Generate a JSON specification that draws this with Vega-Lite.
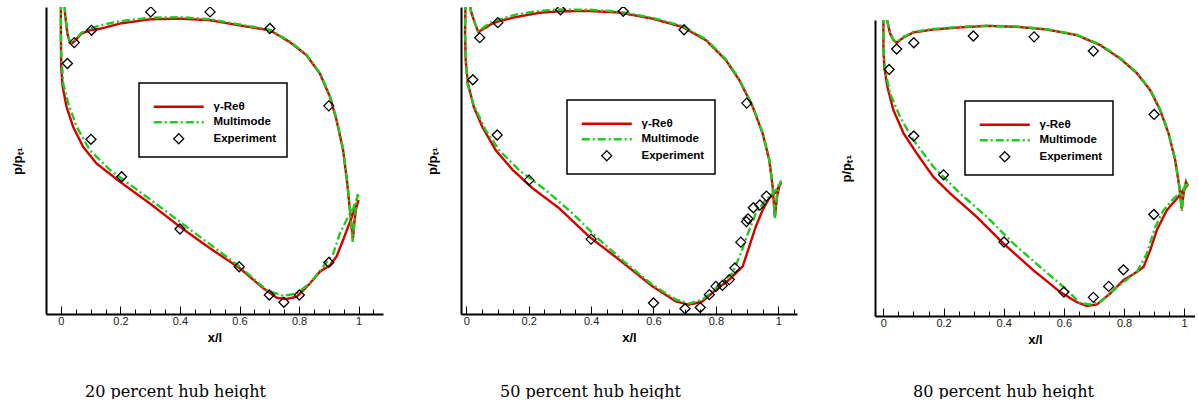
{
"$schema": "https://vega.github.io/schema/vega-lite/v6.json",
"padding": {"left": 11, "top": 7, "right": 0, "bottom": 0},
"background": "white",
"spacing": 43,
"config": {
  "view": {"stroke": null},
  "font": "Liberation Sans",
  "axis": {"labelFont": "Liberation Sans", "titleFont": "Liberation Sans", "domainColor": "black", "domainWidth": 2, "tickColor": "black", "grid": false},
  "legend": {"strokeColor": "black", "strokeWidth": 1.5, "padding": 10, "symbolOffset": 24, "labelOffset": 29, "symbolStrokeWidth": 2, "symbolSize": 100, "labelFont": "Liberation Sans", "labelFontWeight": "bold", "labelFontSize": 11.5, "labelColor": "black", "rowPadding": 2.5, "titleFontSize": 6, "titlePadding": 2, "symbolFillColor": "transparent", "labelLimit": 300}
},
"resolve": {"scale": {"x": "independent", "y": "independent", "color": "independent", "strokeDash": "independent", "shape": "independent"}, "legend": {"color": "independent", "strokeDash": "independent", "shape": "independent"}},
"data": {"values": [
{"p":1,"s":"γ-Reθ","i":1,"x":0.010,"y":1.06},{"p":1,"s":"γ-Reθ","i":2,"x":0.014,"y":0.978},{"p":1,"s":"γ-Reθ","i":3,"x":0.022,"y":0.913},{"p":1,"s":"γ-Reθ","i":4,"x":0.030,"y":0.885},{"p":1,"s":"γ-Reθ","i":5,"x":0.038,"y":0.882},{"p":1,"s":"γ-Reθ","i":6,"x":0.050,"y":0.893},{"p":1,"s":"γ-Reθ","i":7,"x":0.069,"y":0.913},{"p":1,"s":"γ-Reθ","i":8,"x":0.097,"y":0.924},{"p":1,"s":"γ-Reθ","i":9,"x":0.131,"y":0.929},{"p":1,"s":"γ-Reθ","i":10,"x":0.198,"y":0.946},{"p":1,"s":"γ-Reθ","i":11,"x":0.299,"y":0.960},{"p":1,"s":"γ-Reθ","i":12,"x":0.400,"y":0.962},{"p":1,"s":"γ-Reθ","i":13,"x":0.501,"y":0.957},{"p":1,"s":"γ-Reθ","i":14,"x":0.601,"y":0.940},{"p":1,"s":"γ-Reθ","i":15,"x":0.702,"y":0.924},{"p":1,"s":"γ-Reθ","i":16,"x":0.769,"y":0.886},{"p":1,"s":"γ-Reθ","i":17,"x":0.825,"y":0.843},{"p":1,"s":"γ-Reθ","i":18,"x":0.870,"y":0.783},{"p":1,"s":"γ-Reθ","i":19,"x":0.904,"y":0.707},{"p":1,"s":"γ-Reθ","i":20,"x":0.926,"y":0.631},{"p":1,"s":"γ-Reθ","i":21,"x":0.948,"y":0.534},{"p":1,"s":"γ-Reθ","i":22,"x":0.962,"y":0.425},{"p":1,"s":"γ-Reθ","i":23,"x":0.972,"y":0.328},{"p":1,"s":"γ-Reθ","i":24,"x":0.981,"y":0.245},{"p":1,"s":"γ-Reθ","i":25,"x":0.986,"y":0.300},{"p":1,"s":"γ-Reθ","i":26,"x":0.992,"y":0.345},{"p":1,"s":"γ-Reθ","i":27,"x":1.000,"y":0.371},{"p":1,"s":"γ-Reθ","i":28,"x":0.988,"y":0.344},{"p":1,"s":"γ-Reθ","i":29,"x":0.971,"y":0.300},{"p":1,"s":"γ-Reθ","i":30,"x":0.948,"y":0.241},{"p":1,"s":"γ-Reθ","i":31,"x":0.926,"y":0.187},{"p":1,"s":"γ-Reθ","i":32,"x":0.904,"y":0.159},{"p":1,"s":"γ-Reθ","i":33,"x":0.870,"y":0.138},{"p":1,"s":"γ-Reθ","i":34,"x":0.837,"y":0.100},{"p":1,"s":"γ-Reθ","i":35,"x":0.792,"y":0.056},{"p":1,"s":"γ-Reθ","i":36,"x":0.758,"y":0.049},{"p":1,"s":"γ-Reθ","i":37,"x":0.725,"y":0.053},{"p":1,"s":"γ-Reθ","i":38,"x":0.680,"y":0.084},{"p":1,"s":"γ-Reθ","i":39,"x":0.601,"y":0.149},{"p":1,"s":"γ-Reθ","i":40,"x":0.501,"y":0.214},{"p":1,"s":"γ-Reθ","i":41,"x":0.400,"y":0.284},{"p":1,"s":"γ-Reθ","i":42,"x":0.299,"y":0.360},{"p":1,"s":"γ-Reθ","i":43,"x":0.198,"y":0.431},{"p":1,"s":"γ-Reθ","i":44,"x":0.120,"y":0.490},{"p":1,"s":"γ-Reθ","i":45,"x":0.075,"y":0.544},{"p":1,"s":"γ-Reθ","i":46,"x":0.041,"y":0.610},{"p":1,"s":"γ-Reθ","i":47,"x":0.019,"y":0.675},{"p":1,"s":"γ-Reθ","i":48,"x":0.006,"y":0.740},{"p":1,"s":"γ-Reθ","i":49,"x":0.001,"y":0.805},{"p":1,"s":"γ-Reθ","i":50,"x":0.000,"y":0.913},{"p":1,"s":"γ-Reθ","i":51,"x":0.000,"y":1.06},
{"p":1,"s":"Multimode","i":1,"x":0.010,"y":1.06},{"p":1,"s":"Multimode","i":2,"x":0.014,"y":0.978},{"p":1,"s":"Multimode","i":3,"x":0.022,"y":0.913},{"p":1,"s":"Multimode","i":4,"x":0.031,"y":0.886},{"p":1,"s":"Multimode","i":5,"x":0.040,"y":0.885},{"p":1,"s":"Multimode","i":6,"x":0.052,"y":0.897},{"p":1,"s":"Multimode","i":7,"x":0.069,"y":0.916},{"p":1,"s":"Multimode","i":8,"x":0.097,"y":0.929},{"p":1,"s":"Multimode","i":9,"x":0.131,"y":0.940},{"p":1,"s":"Multimode","i":10,"x":0.198,"y":0.954},{"p":1,"s":"Multimode","i":11,"x":0.299,"y":0.965},{"p":1,"s":"Multimode","i":12,"x":0.400,"y":0.967},{"p":1,"s":"Multimode","i":13,"x":0.501,"y":0.960},{"p":1,"s":"Multimode","i":14,"x":0.601,"y":0.943},{"p":1,"s":"Multimode","i":15,"x":0.702,"y":0.926},{"p":1,"s":"Multimode","i":16,"x":0.769,"y":0.888},{"p":1,"s":"Multimode","i":17,"x":0.825,"y":0.845},{"p":1,"s":"Multimode","i":18,"x":0.870,"y":0.785},{"p":1,"s":"Multimode","i":19,"x":0.904,"y":0.710},{"p":1,"s":"Multimode","i":20,"x":0.926,"y":0.635},{"p":1,"s":"Multimode","i":21,"x":0.948,"y":0.538},{"p":1,"s":"Multimode","i":22,"x":0.962,"y":0.428},{"p":1,"s":"Multimode","i":23,"x":0.972,"y":0.330},{"p":1,"s":"Multimode","i":24,"x":0.980,"y":0.235},{"p":1,"s":"Multimode","i":25,"x":0.986,"y":0.300},{"p":1,"s":"Multimode","i":26,"x":0.992,"y":0.360},{"p":1,"s":"Multimode","i":27,"x":0.997,"y":0.390},{"p":1,"s":"Multimode","i":28,"x":1.000,"y":0.380},{"p":1,"s":"Multimode","i":29,"x":0.994,"y":0.376},{"p":1,"s":"Multimode","i":30,"x":0.982,"y":0.344},{"p":1,"s":"Multimode","i":31,"x":0.965,"y":0.317},{"p":1,"s":"Multimode","i":32,"x":0.937,"y":0.262},{"p":1,"s":"Multimode","i":33,"x":0.915,"y":0.197},{"p":1,"s":"Multimode","i":34,"x":0.881,"y":0.154},{"p":1,"s":"Multimode","i":35,"x":0.837,"y":0.100},{"p":1,"s":"Multimode","i":36,"x":0.792,"y":0.067},{"p":1,"s":"Multimode","i":37,"x":0.747,"y":0.059},{"p":1,"s":"Multimode","i":38,"x":0.691,"y":0.078},{"p":1,"s":"Multimode","i":39,"x":0.601,"y":0.154},{"p":1,"s":"Multimode","i":40,"x":0.512,"y":0.219},{"p":1,"s":"Multimode","i":41,"x":0.422,"y":0.284},{"p":1,"s":"Multimode","i":42,"x":0.333,"y":0.349},{"p":1,"s":"Multimode","i":43,"x":0.243,"y":0.414},{"p":1,"s":"Multimode","i":44,"x":0.165,"y":0.469},{"p":1,"s":"Multimode","i":45,"x":0.097,"y":0.534},{"p":1,"s":"Multimode","i":46,"x":0.053,"y":0.610},{"p":1,"s":"Multimode","i":47,"x":0.025,"y":0.686},{"p":1,"s":"Multimode","i":48,"x":0.008,"y":0.750},{"p":1,"s":"Multimode","i":49,"x":0.001,"y":0.850},{"p":1,"s":"Multimode","i":50,"x":0.000,"y":0.913},{"p":1,"s":"Multimode","i":51,"x":0.000,"y":1.06},
{"p":1,"s":"Experiment","i":1,"x":0.302,"y":0.984},{"p":1,"s":"Experiment","i":2,"x":0.501,"y":0.984},{"p":1,"s":"Experiment","i":3,"x":0.702,"y":0.930},{"p":1,"s":"Experiment","i":4,"x":0.103,"y":0.924},{"p":1,"s":"Experiment","i":5,"x":0.045,"y":0.884},{"p":1,"s":"Experiment","i":6,"x":0.022,"y":0.816},{"p":1,"s":"Experiment","i":7,"x":0.900,"y":0.678},{"p":1,"s":"Experiment","i":8,"x":0.101,"y":0.569},{"p":1,"s":"Experiment","i":9,"x":0.204,"y":0.447},{"p":1,"s":"Experiment","i":10,"x":0.400,"y":0.277},{"p":1,"s":"Experiment","i":11,"x":0.599,"y":0.154},{"p":1,"s":"Experiment","i":12,"x":0.700,"y":0.062},{"p":1,"s":"Experiment","i":13,"x":0.749,"y":0.038},{"p":1,"s":"Experiment","i":14,"x":0.801,"y":0.062},{"p":1,"s":"Experiment","i":15,"x":0.900,"y":0.168},
{"p":2,"s":"γ-Reθ","i":1,"x":0.009,"y":1.06},{"p":2,"s":"γ-Reθ","i":2,"x":0.014,"y":0.989},{"p":2,"s":"γ-Reθ","i":3,"x":0.028,"y":0.946},{"p":2,"s":"γ-Reθ","i":4,"x":0.038,"y":0.919},{"p":2,"s":"γ-Reθ","i":5,"x":0.057,"y":0.930},{"p":2,"s":"γ-Reθ","i":6,"x":0.083,"y":0.946},{"p":2,"s":"γ-Reθ","i":7,"x":0.105,"y":0.954},{"p":2,"s":"γ-Reθ","i":8,"x":0.158,"y":0.967},{"p":2,"s":"γ-Reθ","i":9,"x":0.233,"y":0.981},{"p":2,"s":"γ-Reθ","i":10,"x":0.297,"y":0.986},{"p":2,"s":"γ-Reθ","i":11,"x":0.394,"y":0.987},{"p":2,"s":"γ-Reθ","i":12,"x":0.490,"y":0.982},{"p":2,"s":"γ-Reθ","i":13,"x":0.597,"y":0.962},{"p":2,"s":"γ-Reθ","i":14,"x":0.693,"y":0.935},{"p":2,"s":"γ-Reθ","i":15,"x":0.768,"y":0.892},{"p":2,"s":"γ-Reθ","i":16,"x":0.832,"y":0.827},{"p":2,"s":"γ-Reθ","i":17,"x":0.875,"y":0.762},{"p":2,"s":"γ-Reθ","i":18,"x":0.918,"y":0.675},{"p":2,"s":"γ-Reθ","i":19,"x":0.950,"y":0.588},{"p":2,"s":"γ-Reθ","i":20,"x":0.971,"y":0.502},{"p":2,"s":"γ-Reθ","i":21,"x":0.982,"y":0.415},{"p":2,"s":"γ-Reθ","i":22,"x":0.989,"y":0.317},{"p":2,"s":"γ-Reθ","i":23,"x":0.996,"y":0.382},{"p":2,"s":"γ-Reθ","i":24,"x":1.003,"y":0.415},{"p":2,"s":"γ-Reθ","i":25,"x":1.009,"y":0.428},{"p":2,"s":"γ-Reθ","i":26,"x":0.993,"y":0.399},{"p":2,"s":"γ-Reθ","i":27,"x":0.971,"y":0.377},{"p":2,"s":"γ-Reθ","i":28,"x":0.950,"y":0.339},{"p":2,"s":"γ-Reθ","i":29,"x":0.928,"y":0.285},{"p":2,"s":"γ-Reθ","i":30,"x":0.907,"y":0.220},{"p":2,"s":"γ-Reθ","i":31,"x":0.886,"y":0.155},{"p":2,"s":"γ-Reθ","i":32,"x":0.843,"y":0.112},{"p":2,"s":"γ-Reθ","i":33,"x":0.800,"y":0.079},{"p":2,"s":"γ-Reθ","i":34,"x":0.757,"y":0.041},{"p":2,"s":"γ-Reθ","i":35,"x":0.714,"y":0.030},{"p":2,"s":"γ-Reθ","i":36,"x":0.672,"y":0.041},{"p":2,"s":"γ-Reθ","i":37,"x":0.597,"y":0.090},{"p":2,"s":"γ-Reθ","i":38,"x":0.490,"y":0.177},{"p":2,"s":"γ-Reθ","i":39,"x":0.394,"y":0.252},{"p":2,"s":"γ-Reθ","i":40,"x":0.297,"y":0.345},{"p":2,"s":"γ-Reθ","i":41,"x":0.212,"y":0.410},{"p":2,"s":"γ-Reθ","i":42,"x":0.148,"y":0.470},{"p":2,"s":"γ-Reθ","i":43,"x":0.094,"y":0.534},{"p":2,"s":"γ-Reθ","i":44,"x":0.051,"y":0.610},{"p":2,"s":"γ-Reθ","i":45,"x":0.024,"y":0.675},{"p":2,"s":"γ-Reθ","i":46,"x":0.005,"y":0.751},{"p":2,"s":"γ-Reθ","i":47,"x":-0.002,"y":0.827},{"p":2,"s":"γ-Reθ","i":48,"x":-0.004,"y":0.913},{"p":2,"s":"γ-Reθ","i":49,"x":-0.002,"y":1.06},
{"p":2,"s":"Multimode","i":1,"x":0.009,"y":1.06},{"p":2,"s":"Multimode","i":2,"x":0.014,"y":0.989},{"p":2,"s":"Multimode","i":3,"x":0.028,"y":0.946},{"p":2,"s":"Multimode","i":4,"x":0.038,"y":0.921},{"p":2,"s":"Multimode","i":5,"x":0.057,"y":0.935},{"p":2,"s":"Multimode","i":6,"x":0.083,"y":0.952},{"p":2,"s":"Multimode","i":7,"x":0.105,"y":0.960},{"p":2,"s":"Multimode","i":8,"x":0.158,"y":0.975},{"p":2,"s":"Multimode","i":9,"x":0.233,"y":0.987},{"p":2,"s":"Multimode","i":10,"x":0.297,"y":0.992},{"p":2,"s":"Multimode","i":11,"x":0.394,"y":0.991},{"p":2,"s":"Multimode","i":12,"x":0.490,"y":0.985},{"p":2,"s":"Multimode","i":13,"x":0.597,"y":0.965},{"p":2,"s":"Multimode","i":14,"x":0.693,"y":0.938},{"p":2,"s":"Multimode","i":15,"x":0.768,"y":0.895},{"p":2,"s":"Multimode","i":16,"x":0.832,"y":0.830},{"p":2,"s":"Multimode","i":17,"x":0.875,"y":0.765},{"p":2,"s":"Multimode","i":18,"x":0.918,"y":0.678},{"p":2,"s":"Multimode","i":19,"x":0.950,"y":0.590},{"p":2,"s":"Multimode","i":20,"x":0.971,"y":0.505},{"p":2,"s":"Multimode","i":21,"x":0.982,"y":0.418},{"p":2,"s":"Multimode","i":22,"x":0.989,"y":0.310},{"p":2,"s":"Multimode","i":23,"x":0.996,"y":0.385},{"p":2,"s":"Multimode","i":24,"x":1.003,"y":0.420},{"p":2,"s":"Multimode","i":25,"x":1.009,"y":0.435},{"p":2,"s":"Multimode","i":26,"x":0.993,"y":0.404},{"p":2,"s":"Multimode","i":27,"x":0.960,"y":0.372},{"p":2,"s":"Multimode","i":28,"x":0.928,"y":0.328},{"p":2,"s":"Multimode","i":29,"x":0.907,"y":0.274},{"p":2,"s":"Multimode","i":30,"x":0.880,"y":0.198},{"p":2,"s":"Multimode","i":31,"x":0.853,"y":0.133},{"p":2,"s":"Multimode","i":32,"x":0.800,"y":0.085},{"p":2,"s":"Multimode","i":33,"x":0.757,"y":0.047},{"p":2,"s":"Multimode","i":34,"x":0.714,"y":0.034},{"p":2,"s":"Multimode","i":35,"x":0.672,"y":0.047},{"p":2,"s":"Multimode","i":36,"x":0.597,"y":0.095},{"p":2,"s":"Multimode","i":37,"x":0.511,"y":0.166},{"p":2,"s":"Multimode","i":38,"x":0.426,"y":0.242},{"p":2,"s":"Multimode","i":39,"x":0.340,"y":0.328},{"p":2,"s":"Multimode","i":40,"x":0.254,"y":0.404},{"p":2,"s":"Multimode","i":41,"x":0.169,"y":0.469},{"p":2,"s":"Multimode","i":42,"x":0.105,"y":0.534},{"p":2,"s":"Multimode","i":43,"x":0.062,"y":0.599},{"p":2,"s":"Multimode","i":44,"x":0.024,"y":0.680},{"p":2,"s":"Multimode","i":45,"x":0.003,"y":0.751},{"p":2,"s":"Multimode","i":46,"x":-0.004,"y":0.913},{"p":2,"s":"Multimode","i":47,"x":-0.002,"y":1.06},
{"p":2,"s":"Experiment","i":1,"x":0.043,"y":0.900},{"p":2,"s":"Experiment","i":2,"x":0.101,"y":0.949},{"p":2,"s":"Experiment","i":3,"x":0.302,"y":0.991},{"p":2,"s":"Experiment","i":4,"x":0.503,"y":0.986},{"p":2,"s":"Experiment","i":5,"x":0.698,"y":0.926},{"p":2,"s":"Experiment","i":6,"x":0.021,"y":0.763},{"p":2,"s":"Experiment","i":7,"x":0.899,"y":0.687},{"p":2,"s":"Experiment","i":8,"x":0.099,"y":0.583},{"p":2,"s":"Experiment","i":9,"x":0.201,"y":0.436},{"p":2,"s":"Experiment","i":10,"x":0.400,"y":0.244},{"p":2,"s":"Experiment","i":11,"x":0.600,"y":0.036},{"p":2,"s":"Experiment","i":12,"x":0.701,"y":0.017},{"p":2,"s":"Experiment","i":13,"x":0.750,"y":0.021},{"p":2,"s":"Experiment","i":14,"x":0.779,"y":0.063},{"p":2,"s":"Experiment","i":15,"x":0.800,"y":0.090},{"p":2,"s":"Experiment","i":16,"x":0.821,"y":0.093},{"p":2,"s":"Experiment","i":17,"x":0.843,"y":0.112},{"p":2,"s":"Experiment","i":18,"x":0.861,"y":0.150},{"p":2,"s":"Experiment","i":19,"x":0.880,"y":0.234},{"p":2,"s":"Experiment","i":20,"x":0.898,"y":0.301},{"p":2,"s":"Experiment","i":21,"x":0.903,"y":0.310},{"p":2,"s":"Experiment","i":22,"x":0.920,"y":0.346},{"p":2,"s":"Experiment","i":23,"x":0.941,"y":0.355},{"p":2,"s":"Experiment","i":24,"x":0.962,"y":0.384},
{"p":3,"s":"γ-Reθ","i":1,"x":0.012,"y":1.0},{"p":3,"s":"γ-Reθ","i":3,"x":0.022,"y":0.955},{"p":3,"s":"γ-Reθ","i":4,"x":0.033,"y":0.932},{"p":3,"s":"γ-Reθ","i":5,"x":0.044,"y":0.923},{"p":3,"s":"γ-Reθ","i":6,"x":0.067,"y":0.941},{"p":3,"s":"γ-Reθ","i":7,"x":0.100,"y":0.958},{"p":3,"s":"γ-Reθ","i":8,"x":0.166,"y":0.968},{"p":3,"s":"γ-Reθ","i":9,"x":0.255,"y":0.975},{"p":3,"s":"γ-Reθ","i":10,"x":0.344,"y":0.980},{"p":3,"s":"γ-Reθ","i":11,"x":0.443,"y":0.977},{"p":3,"s":"γ-Reθ","i":12,"x":0.543,"y":0.968},{"p":3,"s":"γ-Reθ","i":13,"x":0.643,"y":0.949},{"p":3,"s":"γ-Reθ","i":14,"x":0.721,"y":0.915},{"p":3,"s":"γ-Reθ","i":15,"x":0.787,"y":0.870},{"p":3,"s":"γ-Reθ","i":16,"x":0.843,"y":0.820},{"p":3,"s":"γ-Reθ","i":17,"x":0.887,"y":0.763},{"p":3,"s":"γ-Reθ","i":18,"x":0.920,"y":0.696},{"p":3,"s":"γ-Reθ","i":19,"x":0.948,"y":0.617},{"p":3,"s":"γ-Reθ","i":20,"x":0.970,"y":0.527},{"p":3,"s":"γ-Reθ","i":21,"x":0.984,"y":0.436},{"p":3,"s":"γ-Reθ","i":22,"x":0.992,"y":0.363},{"p":3,"s":"γ-Reθ","i":23,"x":0.998,"y":0.414},{"p":3,"s":"γ-Reθ","i":24,"x":1.006,"y":0.453},{"p":3,"s":"γ-Reθ","i":25,"x":1.011,"y":0.442},{"p":3,"s":"γ-Reθ","i":26,"x":0.992,"y":0.419},{"p":3,"s":"γ-Reθ","i":27,"x":0.976,"y":0.397},{"p":3,"s":"γ-Reθ","i":28,"x":0.942,"y":0.357},{"p":3,"s":"γ-Reθ","i":29,"x":0.909,"y":0.290},{"p":3,"s":"γ-Reθ","i":30,"x":0.887,"y":0.222},{"p":3,"s":"γ-Reθ","i":31,"x":0.865,"y":0.166},{"p":3,"s":"γ-Reθ","i":32,"x":0.843,"y":0.149},{"p":3,"s":"γ-Reθ","i":33,"x":0.798,"y":0.121},{"p":3,"s":"γ-Reθ","i":34,"x":0.754,"y":0.076},{"p":3,"s":"γ-Reθ","i":35,"x":0.710,"y":0.039},{"p":3,"s":"γ-Reθ","i":36,"x":0.676,"y":0.034},{"p":3,"s":"γ-Reθ","i":37,"x":0.643,"y":0.047},{"p":3,"s":"γ-Reθ","i":38,"x":0.588,"y":0.081},{"p":3,"s":"γ-Reθ","i":39,"x":0.499,"y":0.154},{"p":3,"s":"γ-Reθ","i":40,"x":0.399,"y":0.245},{"p":3,"s":"γ-Reθ","i":41,"x":0.310,"y":0.335},{"p":3,"s":"γ-Reθ","i":42,"x":0.222,"y":0.414},{"p":3,"s":"γ-Reθ","i":43,"x":0.166,"y":0.470},{"p":3,"s":"γ-Reθ","i":44,"x":0.111,"y":0.549},{"p":3,"s":"γ-Reθ","i":45,"x":0.067,"y":0.617},{"p":3,"s":"γ-Reθ","i":46,"x":0.033,"y":0.696},{"p":3,"s":"γ-Reθ","i":47,"x":0.013,"y":0.775},{"p":3,"s":"γ-Reθ","i":48,"x":0.003,"y":0.842},{"p":3,"s":"γ-Reθ","i":49,"x":0.000,"y":0.899},{"p":3,"s":"γ-Reθ","i":50,"x":0.000,"y":1.0},
{"p":3,"s":"Multimode","i":1,"x":0.012,"y":1.0},{"p":3,"s":"Multimode","i":3,"x":0.022,"y":0.957},{"p":3,"s":"Multimode","i":4,"x":0.033,"y":0.934},{"p":3,"s":"Multimode","i":5,"x":0.044,"y":0.925},{"p":3,"s":"Multimode","i":6,"x":0.067,"y":0.943},{"p":3,"s":"Multimode","i":7,"x":0.100,"y":0.960},{"p":3,"s":"Multimode","i":8,"x":0.166,"y":0.970},{"p":3,"s":"Multimode","i":9,"x":0.255,"y":0.977},{"p":3,"s":"Multimode","i":10,"x":0.344,"y":0.981},{"p":3,"s":"Multimode","i":11,"x":0.443,"y":0.978},{"p":3,"s":"Multimode","i":12,"x":0.543,"y":0.969},{"p":3,"s":"Multimode","i":13,"x":0.643,"y":0.950},{"p":3,"s":"Multimode","i":14,"x":0.721,"y":0.917},{"p":3,"s":"Multimode","i":15,"x":0.787,"y":0.872},{"p":3,"s":"Multimode","i":16,"x":0.843,"y":0.822},{"p":3,"s":"Multimode","i":17,"x":0.887,"y":0.765},{"p":3,"s":"Multimode","i":18,"x":0.920,"y":0.698},{"p":3,"s":"Multimode","i":19,"x":0.948,"y":0.619},{"p":3,"s":"Multimode","i":20,"x":0.970,"y":0.529},{"p":3,"s":"Multimode","i":21,"x":0.984,"y":0.438},{"p":3,"s":"Multimode","i":22,"x":0.992,"y":0.355},{"p":3,"s":"Multimode","i":23,"x":0.998,"y":0.414},{"p":3,"s":"Multimode","i":24,"x":1.006,"y":0.460},{"p":3,"s":"Multimode","i":25,"x":1.011,"y":0.445},{"p":3,"s":"Multimode","i":26,"x":0.987,"y":0.416},{"p":3,"s":"Multimode","i":27,"x":0.965,"y":0.397},{"p":3,"s":"Multimode","i":28,"x":0.931,"y":0.357},{"p":3,"s":"Multimode","i":29,"x":0.904,"y":0.301},{"p":3,"s":"Multimode","i":30,"x":0.876,"y":0.211},{"p":3,"s":"Multimode","i":31,"x":0.843,"y":0.149},{"p":3,"s":"Multimode","i":32,"x":0.809,"y":0.123},{"p":3,"s":"Multimode","i":33,"x":0.765,"y":0.087},{"p":3,"s":"Multimode","i":34,"x":0.721,"y":0.047},{"p":3,"s":"Multimode","i":35,"x":0.687,"y":0.039},{"p":3,"s":"Multimode","i":36,"x":0.654,"y":0.044},{"p":3,"s":"Multimode","i":37,"x":0.599,"y":0.098},{"p":3,"s":"Multimode","i":38,"x":0.521,"y":0.166},{"p":3,"s":"Multimode","i":39,"x":0.432,"y":0.245},{"p":3,"s":"Multimode","i":40,"x":0.344,"y":0.335},{"p":3,"s":"Multimode","i":41,"x":0.255,"y":0.414},{"p":3,"s":"Multimode","i":42,"x":0.166,"y":0.504},{"p":3,"s":"Multimode","i":43,"x":0.100,"y":0.594},{"p":3,"s":"Multimode","i":44,"x":0.055,"y":0.673},{"p":3,"s":"Multimode","i":45,"x":0.022,"y":0.752},{"p":3,"s":"Multimode","i":46,"x":0.006,"y":0.831},{"p":3,"s":"Multimode","i":47,"x":0.000,"y":0.899},{"p":3,"s":"Multimode","i":48,"x":0.000,"y":1.0},
{"p":3,"s":"Experiment","i":1,"x":0.019,"y":0.833},{"p":3,"s":"Experiment","i":2,"x":0.044,"y":0.902},{"p":3,"s":"Experiment","i":3,"x":0.101,"y":0.923},{"p":3,"s":"Experiment","i":4,"x":0.299,"y":0.946},{"p":3,"s":"Experiment","i":5,"x":0.501,"y":0.943},{"p":3,"s":"Experiment","i":6,"x":0.698,"y":0.895},{"p":3,"s":"Experiment","i":7,"x":0.900,"y":0.681},{"p":3,"s":"Experiment","i":8,"x":0.101,"y":0.608},{"p":3,"s":"Experiment","i":9,"x":0.200,"y":0.477},{"p":3,"s":"Experiment","i":10,"x":0.401,"y":0.250},{"p":3,"s":"Experiment","i":11,"x":0.600,"y":0.081},{"p":3,"s":"Experiment","i":12,"x":0.698,"y":0.063},{"p":3,"s":"Experiment","i":13,"x":0.749,"y":0.100},{"p":3,"s":"Experiment","i":14,"x":0.798,"y":0.156},{"p":3,"s":"Experiment","i":15,"x":0.899,"y":0.343}
]},
"hconcat": [
{
  "width": 337, "height": 307,
  "transform": [{"filter": "datum.p == 1"}],
  "resolve": {"axis": {"x": "independent"}},
  "layer": [
    {"transform": [{"filter": "datum.s == 'γ-Reθ'"}],
     "mark": {"type": "line", "clip": true, "strokeWidth": 2.4},
     "encoding": {
       "x": {"field": "x", "type": "quantitative", "scale": {"domain": [-0.05, 1.082], "nice": false, "zero": false},
             "axis": {"values": [-0.05,0,0.05,0.1,0.15,0.2,0.25,0.3,0.35,0.4,0.45,0.5,0.55,0.6,0.65,0.7,0.75,0.8,0.85,0.9,0.95,1,1.05], "tickSize": {"condition": {"test": "datum.value >= 0 && abs(datum.value*5 - round(datum.value*5)) < 0.01", "value": -8}, "value": -5}, "tickWidth": 1, "labelPadding": 9, "labelFontSize": 11, "labelColor": "#222", "labelOverlap": false, "labelFlush": false, "labelExpr": "datum.value >= 0 && abs(datum.value*5 - round(datum.value*5)) < 0.01 ? format(datum.value, '.1~f') : ''", "title": "x/l", "titleFontSize": 13, "titleFontWeight": "bold", "titleColor": "black", "titlePadding": 2}},
       "y": {"field": "y", "type": "quantitative", "scale": {"domain": [0, 1], "nice": false, "zero": false},
             "axis": {"ticks": false, "labels": false, "title": "p/pₜ₁", "titleFontSize": 13, "titleFontWeight": "bold", "titleColor": "black", "titlePadding": 22}},
       "order": {"field": "i", "type": "quantitative"},
       "color": {"field": "s", "type": "nominal", "scale": {"domain": ["γ-Reθ", "Multimode", "Experiment"], "range": ["#d40000", "#1ecb1e", "black"]}, "legend": {"orient": "none", "legendX": 93, "legendY": 76, "title": " ", "labelExpr": "datum.label + '\u00a0'", "encode": {"symbols": {"update": {"strokeWidth": {"signal": "datum.value === 'Experiment' ? 1.3 : 2.4"}}}}}},
       "strokeDash": {"field": "s", "type": "nominal", "scale": {"domain": ["γ-Reθ", "Multimode", "Experiment"], "range": [[1,0],[8,3,2,3],[1,0]]}, "legend": {"orient": "none", "legendX": 93, "legendY": 76, "title": " ", "labelExpr": "datum.label + '\u00a0'", "encode": {"symbols": {"update": {"strokeWidth": {"signal": "datum.value === 'Experiment' ? 1.3 : 2.4"}}}}}}
     }},
    {"transform": [{"filter": "datum.s == 'Multimode'"}],
     "mark": {"type": "line", "clip": true, "strokeWidth": 2.4},
     "encoding": {
       "x": {"field": "x", "type": "quantitative", "axis": null},
       "y": {"field": "y", "type": "quantitative"},
       "order": {"field": "i", "type": "quantitative"},
       "color": {"field": "s", "type": "nominal"},
       "strokeDash": {"field": "s", "type": "nominal"}
     }},
    {"transform": [{"filter": "datum.s == 'Experiment'"}],
     "mark": {"type": "point", "filled": false, "size": 100, "strokeWidth": 1.3, "clip": true, "opacity": 1},
     "encoding": {
       "x": {"field": "x", "type": "quantitative", "axis": {"orient": "bottom", "domain": false, "ticks": false, "labels": false, "title": "20 percent hub height", "titleFont": "DejaVu Serif", "titleFontSize": 16, "titleFontWeight": "normal", "titleColor": "black", "titleX": 129, "titleY": 82, "titleAlign": "center", "titleBaseline": "alphabetic", "titleAngle": 0}},
       "y": {"field": "y", "type": "quantitative"},
       "color": {"field": "s", "type": "nominal"},
       "shape": {"field": "s", "type": "nominal", "scale": {"domain": ["γ-Reθ", "Multimode", "Experiment"], "range": ["M-5,0H5", "M-5,0H5", "diamond"]}, "legend": {"orient": "none", "legendX": 93, "legendY": 76, "title": " ", "labelExpr": "datum.label + '\u00a0'", "encode": {"symbols": {"update": {"strokeWidth": {"signal": "datum.value === 'Experiment' ? 1.3 : 2.4"}}}}}}
     }}
  ]
},
{
  "width": 336, "height": 307,
  "transform": [{"filter": "datum.p == 2"}],
  "resolve": {"axis": {"x": "independent"}},
  "layer": [
    {"transform": [{"filter": "datum.s == 'γ-Reθ'"}],
     "mark": {"type": "line", "clip": true, "strokeWidth": 2.4},
     "encoding": {
       "x": {"field": "x", "type": "quantitative", "scale": {"domain": [-0.017, 1.06], "nice": false, "zero": false},
             "axis": {"values": [0,0.05,0.1,0.15,0.2,0.25,0.3,0.35,0.4,0.45,0.5,0.55,0.6,0.65,0.7,0.75,0.8,0.85,0.9,0.95,1,1.05], "tickSize": {"condition": {"test": "datum.value >= 0 && abs(datum.value*5 - round(datum.value*5)) < 0.01", "value": -8}, "value": -5}, "tickWidth": 1, "labelPadding": 9, "labelFontSize": 11, "labelColor": "#222", "labelOverlap": false, "labelFlush": false, "labelExpr": "datum.value >= 0 && abs(datum.value*5 - round(datum.value*5)) < 0.01 ? format(datum.value, '.1~f') : ''", "title": "x/l", "titleFontSize": 13, "titleFontWeight": "bold", "titleColor": "black", "titlePadding": 2}},
       "y": {"field": "y", "type": "quantitative", "scale": {"domain": [0, 1], "nice": false, "zero": false},
             "axis": {"ticks": false, "labels": false, "title": "p/pₜ₁", "titleFontSize": 13, "titleFontWeight": "bold", "titleColor": "black", "titlePadding": 22}},
       "order": {"field": "i", "type": "quantitative"},
       "color": {"field": "s", "type": "nominal", "scale": {"domain": ["γ-Reθ", "Multimode", "Experiment"], "range": ["#d40000", "#1ecb1e", "black"]}, "legend": {"orient": "none", "legendX": 106, "legendY": 93, "title": " ", "labelExpr": "datum.label + '\u00a0'", "encode": {"symbols": {"update": {"strokeWidth": {"signal": "datum.value === 'Experiment' ? 1.3 : 2.4"}}}}}},
       "strokeDash": {"field": "s", "type": "nominal", "scale": {"domain": ["γ-Reθ", "Multimode", "Experiment"], "range": [[1,0],[8,3,2,3],[1,0]]}, "legend": {"orient": "none", "legendX": 106, "legendY": 93, "title": " ", "labelExpr": "datum.label + '\u00a0'", "encode": {"symbols": {"update": {"strokeWidth": {"signal": "datum.value === 'Experiment' ? 1.3 : 2.4"}}}}}}
     }},
    {"transform": [{"filter": "datum.s == 'Multimode'"}],
     "mark": {"type": "line", "clip": true, "strokeWidth": 2.4},
     "encoding": {
       "x": {"field": "x", "type": "quantitative", "axis": null},
       "y": {"field": "y", "type": "quantitative"},
       "order": {"field": "i", "type": "quantitative"},
       "color": {"field": "s", "type": "nominal"},
       "strokeDash": {"field": "s", "type": "nominal"}
     }},
    {"transform": [{"filter": "datum.s == 'Experiment'"}],
     "mark": {"type": "point", "filled": false, "size": 100, "strokeWidth": 1.3, "clip": true, "opacity": 1},
     "encoding": {
       "x": {"field": "x", "type": "quantitative", "axis": {"orient": "bottom", "domain": false, "ticks": false, "labels": false, "title": "50 percent hub height", "titleFont": "DejaVu Serif", "titleFontSize": 16, "titleFontWeight": "normal", "titleColor": "black", "titleX": 129, "titleY": 82, "titleAlign": "center", "titleBaseline": "alphabetic", "titleAngle": 0}},
       "y": {"field": "y", "type": "quantitative"},
       "color": {"field": "s", "type": "nominal"},
       "shape": {"field": "s", "type": "nominal", "scale": {"domain": ["γ-Reθ", "Multimode", "Experiment"], "range": ["M-5,0H5", "M-5,0H5", "diamond"]}, "legend": {"orient": "none", "legendX": 106, "legendY": 93, "title": " ", "labelExpr": "datum.label + '\u00a0'", "encode": {"symbols": {"update": {"strokeWidth": {"signal": "datum.value === 'Experiment' ? 1.3 : 2.4"}}}}}}
     }}
  ]
},
{
  "width": 320, "height": 309,
  "transform": [{"filter": "datum.p == 3"}],
  "resolve": {"axis": {"x": "independent"}},
  "layer": [
    {"transform": [{"filter": "datum.s == 'γ-Reθ'"}],
     "mark": {"type": "line", "clip": true, "strokeWidth": 2.4},
     "encoding": {
       "x": {"field": "x", "type": "quantitative", "scale": {"domain": [-0.028, 1.036], "nice": false, "zero": false},
             "axis": {"values": [0,0.05,0.1,0.15,0.2,0.25,0.3,0.35,0.4,0.45,0.5,0.55,0.6,0.65,0.7,0.75,0.8,0.85,0.9,0.95,1], "tickSize": {"condition": {"test": "datum.value >= 0 && abs(datum.value*5 - round(datum.value*5)) < 0.01", "value": -8}, "value": -5}, "tickWidth": 1, "labelPadding": 9, "labelFontSize": 11, "labelColor": "#222", "labelOverlap": false, "labelFlush": false, "labelExpr": "datum.value >= 0 && abs(datum.value*5 - round(datum.value*5)) < 0.01 ? format(datum.value, '.1~f') : ''", "title": "x/l", "titleFontSize": 13, "titleFontWeight": "bold", "titleColor": "black", "titlePadding": 2}},
       "y": {"field": "y", "type": "quantitative", "scale": {"domain": [0, 1], "range": [309, 13], "nice": false, "zero": false},
             "axis": {"ticks": false, "labels": false, "title": "p/pₜ₁", "titleFontSize": 13, "titleFontWeight": "bold", "titleColor": "black", "titlePadding": 22}},
       "order": {"field": "i", "type": "quantitative"},
       "color": {"field": "s", "type": "nominal", "scale": {"domain": ["γ-Reθ", "Multimode", "Experiment"], "range": ["#d40000", "#1ecb1e", "black"]}, "legend": {"orient": "none", "legendX": 90, "legendY": 94, "title": " ", "labelExpr": "datum.label + '\u00a0'", "encode": {"symbols": {"update": {"strokeWidth": {"signal": "datum.value === 'Experiment' ? 1.3 : 2.4"}}}}}},
       "strokeDash": {"field": "s", "type": "nominal", "scale": {"domain": ["γ-Reθ", "Multimode", "Experiment"], "range": [[1,0],[8,3,2,3],[1,0]]}, "legend": {"orient": "none", "legendX": 90, "legendY": 94, "title": " ", "labelExpr": "datum.label + '\u00a0'", "encode": {"symbols": {"update": {"strokeWidth": {"signal": "datum.value === 'Experiment' ? 1.3 : 2.4"}}}}}}
     }},
    {"transform": [{"filter": "datum.s == 'Multimode'"}],
     "mark": {"type": "line", "clip": true, "strokeWidth": 2.4},
     "encoding": {
       "x": {"field": "x", "type": "quantitative", "axis": null},
       "y": {"field": "y", "type": "quantitative"},
       "order": {"field": "i", "type": "quantitative"},
       "color": {"field": "s", "type": "nominal"},
       "strokeDash": {"field": "s", "type": "nominal"}
     }},
    {"transform": [{"filter": "datum.s == 'Experiment'"}],
     "mark": {"type": "point", "filled": false, "size": 100, "strokeWidth": 1.3, "clip": true, "opacity": 1},
     "encoding": {
       "x": {"field": "x", "type": "quantitative", "axis": {"orient": "bottom", "domain": false, "ticks": false, "labels": false, "title": "80 percent hub height", "titleFont": "DejaVu Serif", "titleFontSize": 16, "titleFontWeight": "normal", "titleColor": "black", "titleX": 128, "titleY": 80, "titleAlign": "center", "titleBaseline": "alphabetic", "titleAngle": 0}},
       "y": {"field": "y", "type": "quantitative"},
       "color": {"field": "s", "type": "nominal"},
       "shape": {"field": "s", "type": "nominal", "scale": {"domain": ["γ-Reθ", "Multimode", "Experiment"], "range": ["M-5,0H5", "M-5,0H5", "diamond"]}, "legend": {"orient": "none", "legendX": 90, "legendY": 94, "title": " ", "labelExpr": "datum.label + '\u00a0'", "encode": {"symbols": {"update": {"strokeWidth": {"signal": "datum.value === 'Experiment' ? 1.3 : 2.4"}}}}}}
     }}
  ]
}
]
}
